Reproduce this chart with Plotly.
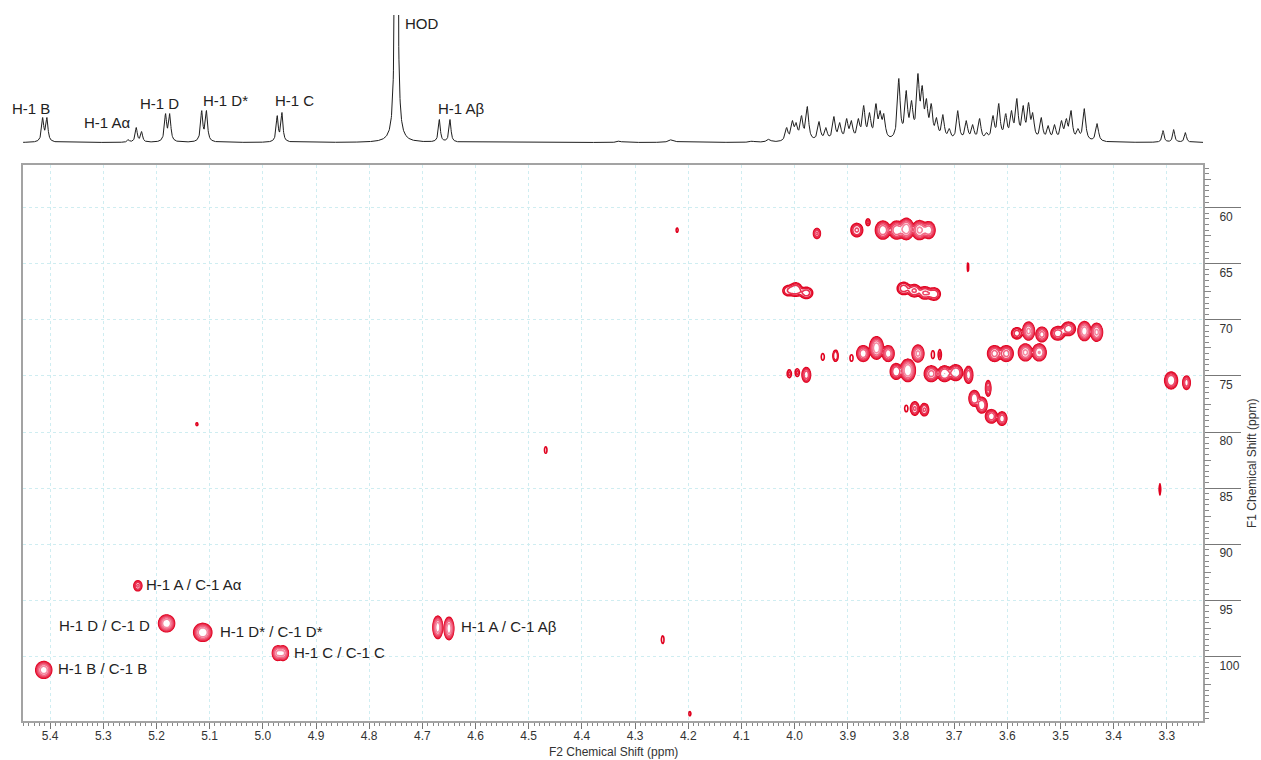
import numpy as np
import plotly.graph_objects as go

# ---------------- 1H spectrum (F2) : peak list ----------------
# chemical shift (ppm), observed height (arb. units), half-width at half-height (ppm)
h1_ppm = [5.414, 5.406,
          5.253, 5.238, 5.228,
          5.183, 5.175,
          5.115, 5.106,
          4.973, 4.964,
          4.749,
          4.668, 4.648,
          4.330, 4.231, 4.080, 4.050,
          4.047, 4.015, 4.004, 3.997, 3.987, 3.976, 3.954, 3.941, 3.926, 3.915,
          3.902, 3.893, 3.880, 3.870, 3.859, 3.847, 3.839, 3.832, 3.804, 3.790,
          3.780, 3.768, 3.760, 3.752, 3.743, 3.733, 3.721, 3.709, 3.693, 3.677,
          3.665, 3.652, 3.639, 3.627, 3.616, 3.603, 3.592, 3.582, 3.570, 3.560,
          3.552, 3.536, 3.523, 3.511, 3.498, 3.489, 3.480, 3.467, 3.455, 3.431,
          3.307, 3.287, 3.265]
h1_height = [25, 25,
             3, 15, 11,
             29, 29,
             32, 32,
             27, 30,
             1000,
             23, 23,
             1.5, 3, 1.5, 3,
             3, 15, 22, 20, 27, 36, 21, 15, 26, 20,
             24, 22, 24, 37, 30, 39, 32, 29, 64, 52,
             42, 69, 57, 44, 39, 25, 28, 14, 32, 22,
             18, 24, 10, 27, 39, 29, 32, 44, 37, 40,
             30, 25, 17, 18, 22, 24, 32, 14, 34, 19,
             12, 13, 10]
h1_hwhm = [0.0024, 0.0024,
           0.0022, 0.0022, 0.0022,
           0.0024, 0.0024,
           0.0024, 0.0024,
           0.0022, 0.0022,
           0.0015,
           0.0022, 0.0022,
           0.004, 0.006, 0.004, 0.004] + [0.0030] * 50 + [0.0022, 0.0022, 0.0022]

h1_labels = ["H-1 B", "H-1 A\u03b1", "H-1 D", "H-1 D*", "H-1 C", "HOD", "H-1 A\u03b2"]

# ---------------- 1H-13C HSQC cross peaks ----------------
# F2 (1H, ppm), F1 (13C, ppm), relative intensity, outer-contour half-widths (ppm)
hsqc_h = [5.412, 5.235, 5.181, 5.113, 4.972, 4.962, 4.671, 4.650,
          4.221, 3.674, 4.468, 5.124, 4.248, 4.197, 3.313,
          3.958, 3.883, 3.862, 3.834, 3.808, 3.790, 3.765, 3.748,
          4.012, 3.998, 3.978, 3.795, 3.775, 3.755, 3.738,
          3.582, 3.560, 3.535, 3.505, 3.485, 3.455, 3.432,
          3.624, 3.602, 3.566, 3.540,
          3.871, 3.846, 3.824, 3.923, 3.947, 3.893,
          3.809, 3.787, 3.768, 3.743, 3.718, 3.697, 3.673, 3.727, 3.740,
          3.978, 4.010, 3.995,
          3.636, 3.662, 3.648, 3.630, 3.610,
          3.774, 3.756, 3.790,
          3.292, 3.263]
hsqc_c = [101.2, 93.7, 97.05, 97.85, 99.7, 99.7, 97.4, 97.5,
          62.0, 65.3, 81.6, 79.3, 98.5, 105.1, 85.1,
          62.3, 62.0, 61.3, 62.0, 62.0, 61.9, 62.0, 62.0,
          67.4, 67.3, 67.6, 67.2, 67.4, 67.6, 67.7,
          71.2, 71.0, 71.3, 71.2, 70.8, 71.0, 71.1,
          73.0, 73.0, 72.9, 72.9,
          73.0, 72.5, 73.0, 73.2, 73.3, 73.4,
          74.6, 74.5, 73.0, 74.8, 74.8, 74.7, 74.9, 73.1, 73.1,
          74.9, 74.8, 74.7,
          76.1, 77.0, 77.6, 78.6, 78.8,
          77.9, 78.0, 77.9,
          75.4, 75.6]
hsqc_int = [25, 6, 30, 30, 20, 20, 25, 25,
            1.5, 1.3, 1.5, 1.2, 1.5, 1.3, 1.3,
            6, 6, 2, 15, 15, 25, 20, 15,
            3, 5, 4, 4, 6, 6, 5,
            4, 20, 12, 8, 8, 25, 20,
            12, 12, 20, 18,
            15, 25, 15, 3, 1.5, 1.3,
            10, 30, 20, 12, 10, 10, 8, 2, 1.5,
            8, 2, 2,
            6, 10, 10, 8, 8,
            6, 6, 1.2,
            10, 8]
hsqc_wh = [0.015, 0.0075, 0.015, 0.017, 0.010, 0.010, 0.009, 0.009,
           0.002, 0.0015, 0.0025, 0.002, 0.0025, 0.002, 0.0015,
           0.0065, 0.011, 0.004, 0.014, 0.014, 0.014, 0.014, 0.012,
           0.010, 0.012, 0.012, 0.012, 0.012, 0.012, 0.012,
           0.010, 0.011, 0.011, 0.013, 0.013, 0.012, 0.011,
           0.013, 0.013, 0.013, 0.013,
           0.012, 0.013, 0.011, 0.005, 0.003, 0.003,
           0.011, 0.014, 0.011, 0.013, 0.013, 0.013, 0.008, 0.003, 0.003,
           0.008, 0.004, 0.004,
           0.005, 0.010, 0.010, 0.011, 0.009,
           0.008, 0.008, 0.003,
           0.012, 0.007]
hsqc_wc = [0.75, 0.45, 0.75, 0.80, 0.65, 0.65, 1.00, 1.00,
           0.20, 0.40, 0.30, 0.15, 0.35, 0.20, 0.50,
           0.45, 0.60, 0.30, 0.80, 0.80, 0.95, 0.85, 0.75,
           0.45, 0.60, 0.50, 0.55, 0.55, 0.55, 0.55,
           0.50, 0.80, 0.65, 0.60, 0.60, 0.85, 0.80,
           0.70, 0.70, 0.75, 0.75,
           0.70, 1.00, 0.70, 0.50, 0.30, 0.30,
           0.70, 1.00, 0.75, 0.70, 0.70, 0.70, 0.75, 0.45, 0.35,
           0.65, 0.35, 0.35,
           0.70, 0.70, 0.70, 0.60, 0.60,
           0.60, 0.55, 0.30,
           0.75, 0.60]

hsqc_labels = ["H-1 A / C-1 A\u03b1", "H-1 D / C-1 D", "H-1 D* / C-1 D*",
               "H-1 C / C-1 C", "H-1 B / C-1 B", "H-1 A / C-1 A\u03b2"]

# axis windows (ppm) and labelled 13C ticks
f2_range = [5.451, 3.232]
f1_range = [105.75, 56.2]
f1_ticks = [60, 65, 70, 75, 80, 85, 90, 95, 100]

# ---------------- build the 1D trace ----------------
ppm_axis = np.arange(f2_range[1], f2_range[0], 0.0004)
pos = np.array(h1_ppm)
hw = np.array(h1_hwhm)
hgt = np.array(h1_height, dtype=float)


def lorentz(x, x0, g):
    return g ** 2 / ((x - x0) ** 2 + g ** 2)


# amplitudes that reproduce the observed peak heights once lines overlap
M = lorentz(pos[:, None], pos[None, :], hw[None, :])
amp, *_ = np.linalg.lstsq(M, hgt, rcond=None)
amp = np.clip(amp, 0.3, None)
spectrum = (amp[None, :] * lorentz(ppm_axis[:, None], pos[None, :], hw[None, :])).sum(axis=1)

# ---------------- build the HSQC surface ----------------
# flat-topped (super-Gaussian) cross-peak shape; outer contour sits at the given half-widths
shape_p = 1.4
hgrid = np.arange(f2_range[1], f2_range[0], 0.0015)
cgrid = np.arange(f1_range[1], f1_range[0], 0.12)
H, C = np.meshgrid(hgrid, cgrid)
surf = np.zeros_like(H)
for h0, c0, a, wh, wc in zip(hsqc_h, hsqc_c, hsqc_int, hsqc_wh, hsqc_wc):
    k = (2.0 * np.log(a)) ** (1.0 / (2.0 * shape_p))
    sh, sc = wh / k, wc / k
    q = ((H - h0) / sh) ** 2 + ((C - c0) / sc) ** 2
    surf += a * np.exp(-0.5 * q ** shape_p)
zlog = np.log10(surf + 1e-6).astype(np.float32)

# ---------------- figure ----------------
font_family = "Liberation Sans, Arial, sans-serif"
fig = go.Figure()

fig.add_trace(go.Scatter(
    x=ppm_axis, y=spectrum, mode="lines",
    line=dict(color="#1e1e1e", width=1),
    xaxis="x2", yaxis="y2", hoverinfo="skip", showlegend=False))

fig.add_trace(go.Contour(
    x=hgrid, y=cgrid, z=zlog,
    contours=dict(start=0.0, end=1.6, size=0.25, coloring="lines"),
    colorscale=[[0, "#e0001e"], [0.5, "#ee4a6a"], [1, "#f8a8bc"]],
    zauto=False, zmin=0.0, zmax=1.5,
    line=dict(width=1.6),
    showscale=False, hoverinfo="skip", xaxis="x", yaxis="y"))

tick_font = dict(family=font_family, size=12, color="#333333")
fig.update_layout(
    width=1261, height=760,
    margin=dict(l=23, r=58, t=15, b=39),
    paper_bgcolor="white", plot_bgcolor="white",
    showlegend=False,
    font=dict(family=font_family, color="#222222"),
    xaxis=dict(
        domain=[0, 1], range=f2_range, anchor="y",
        showline=True, mirror=True, linecolor="#a3a3a3", linewidth=2,
        ticks="outside", ticklen=6, tickcolor="#777777", tickwidth=1,
        dtick=0.1, tick0=0, tickformat=".1f", tickfont=tick_font,
        ticklabelstandoff=-3,
        showgrid=True, gridcolor="#cfedf1", griddash="dot", gridwidth=1,
        minor=dict(dtick=0.01, tick0=0, ticks="outside", ticklen=3,
                   tickcolor="#888888", showgrid=False),
        zeroline=False),
    yaxis=dict(
        domain=[0, 0.78754], range=f1_range, anchor="x", side="right",
        showline=True, mirror=True, linecolor="#a3a3a3", linewidth=2,
        ticks="outside", ticklen=36, tickcolor="#777777", tickwidth=1,
        tickmode="array", tickvals=f1_ticks, tickfont=tick_font,
        ticklabelstandoff=-24, ticklabelshift=-9,
        showgrid=True, gridcolor="#cfedf1", griddash="dot", gridwidth=1,
        minor=dict(dtick=0.5, tick0=0, ticks="outside", ticklen=4,
                   tickcolor="#888888", showgrid=False),
        zeroline=False),
    # intermediate 2.5 ppm ticks on the F1 scale
    yaxis3=dict(
        domain=[0, 0.78754], range=f1_range, anchor="x", side="right",
        overlaying="y", showline=False, showgrid=False, zeroline=False,
        ticks="outside", ticklen=7, tickcolor="#888888", tickwidth=1,
        tick0=2.5, dtick=5, showticklabels=False),
    xaxis2=dict(domain=[0, 1], range=f2_range, anchor="y2", matches="x",
                visible=False, showgrid=False),
    yaxis2=dict(domain=[0.80878, 1], range=[-7.5, 127.5], anchor="x2",
                visible=False, showgrid=False),
)

# keeps the 2.5 ppm tick axis in the layout
fig.add_trace(go.Scatter(x=[None], y=[None], xaxis="x", yaxis="y3",
                         mode="lines", hoverinfo="skip", showlegend=False))

# peak labels on the 1D trace
label_font = dict(family=font_family, size=15, color="#222222")
top_pos = [(5.436, 34.5, "center"), (5.292, 20.5, "center"), (5.195, 39.5, "center"),
           (5.071, 42.5, "center"), (4.941, 42.5, "center"), (4.736, 119.5, "left"),
           (4.626, 34.5, "center")]
for text, (px, py, anchor) in zip(h1_labels, top_pos):
    fig.add_annotation(x=px, y=py, xref="x2", yref="y2", text=text, showarrow=False,
                       xanchor=anchor, yanchor="middle", font=label_font)

# cross-peak assignments
cross_pos = [(5.223, 93.63, "left"), (5.208, 97.25, "right"), (5.085, 97.79, "left"),
             (4.945, 99.66, "left"), (5.389, 101.11, "left"), (4.631, 97.34, "left")]
for text, (px, py, anchor) in zip(hsqc_labels, cross_pos):
    fig.add_annotation(x=px, y=py, xref="x", yref="y", text=text, showarrow=False,
                       xanchor=anchor, yanchor="middle", font=label_font)

# axis titles
fig.add_annotation(x=0.5, y=-0.0437, xref="paper", yref="paper",
                   text="F2 Chemical Shift (ppm)", showarrow=False,
                   xanchor="center", yanchor="middle",
                   font=dict(family=font_family, size=12, color="#333333"))
fig.add_annotation(x=1.0415, y=0.3654, xref="paper", yref="paper",
                   text="F1 Chemical Shift (ppm)", showarrow=False, textangle=-90,
                   xanchor="center", yanchor="middle",
                   font=dict(family=font_family, size=12, color="#333333"))

fig.write_html("out.html")
